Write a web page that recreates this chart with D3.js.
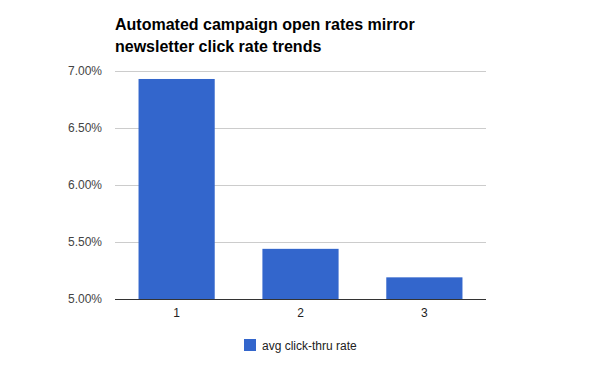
<!DOCTYPE html>
<html>
<head>
<meta charset="utf-8">
<script src="https://cdn.jsdelivr.net/npm/d3@7"></script>
<style>
  body { margin: 0; background: #fff; }
  svg { display: block; font-family: "Liberation Sans", Arial, sans-serif; }
</style>
</head>
<body>
<div id="chart"></div>
<script>
var categories = ["1", "2", "3"];
var clickRates = [6.93, 5.44, 5.19];
var tickValues = [5.0, 5.5, 6.0, 6.5, 7.0];
var seriesName = "avg click-thru rate";
var titleLines = ["Automated campaign open rates mirror", "newsletter click rate trends"];

var width = 600, height = 371;
var margin = {top: 71, right: 114, bottom: 72, left: 115};

var svg = d3.select("#chart").append("svg")
    .attr("width", width)
    .attr("height", height);

var x = d3.scaleBand()
    .domain(categories)
    .range([margin.left, width - margin.right])
    .paddingInner(0.385)
    .paddingOuter(0.19);

var y = d3.scaleLinear()
    .domain([5, 7])
    .range([height - margin.bottom, margin.top]);

// title
svg.append("g")
  .selectAll("text")
  .data(titleLines)
  .join("text")
    .attr("x", margin.left)
    .attr("y", (d, i) => 30 + i * 22)
    .style("font-size", "16px")
    .style("font-weight", "bold")
    .attr("fill", "#000")
    .text(d => d);

// gridlines
svg.append("g")
  .selectAll("line")
  .data(tickValues.slice(1))
  .join("line")
    .attr("x1", margin.left)
    .attr("x2", width - margin.right)
    .attr("y1", d => Math.round(y(d)) + 0.5)
    .attr("y2", d => Math.round(y(d)) + 0.5)
    .attr("stroke", "#cccccc");

// y tick labels
svg.append("g")
  .selectAll("text")
  .data(tickValues)
  .join("text")
    .attr("x", margin.left - 13)
    .attr("y", d => y(d))
    .attr("dy", "0.35em")
    .attr("text-anchor", "end")
    .style("font-size", "12px")
    .attr("fill", "#444")
    .text(d => d3.format(".2f")(d) + "%");

// bars
svg.append("g")
  .selectAll("rect")
  .data(clickRates)
  .join("rect")
    .attr("x", (d, i) => x(categories[i]))
    .attr("y", d => y(d))
    .attr("width", x.bandwidth())
    .attr("height", d => y(5) - y(d))
    .attr("fill", "#3366cc");

// baseline
svg.append("line")
    .attr("x1", margin.left)
    .attr("x2", width - margin.right)
    .attr("y1", Math.round(y(5)) + 0.5)
    .attr("y2", Math.round(y(5)) + 0.5)
    .attr("stroke", "#333");

// x labels
svg.append("g")
  .selectAll("text")
  .data(categories)
  .join("text")
    .attr("x", d => x(d) + x.bandwidth() / 2)
    .attr("y", 317)
    .attr("text-anchor", "middle")
    .style("font-size", "12px")
    .attr("fill", "#222")
    .text(d => d);

// legend
var legend = svg.append("g");
legend.append("rect")
    .attr("x", 244)
    .attr("y", 339)
    .attr("width", 12)
    .attr("height", 12)
    .attr("fill", "#3366cc");
legend.append("text")
    .attr("x", 262)
    .attr("y", 350)
    .style("font-size", "12px")
    .attr("fill", "#222")
    .text(seriesName);
</script>
</body>
</html>
